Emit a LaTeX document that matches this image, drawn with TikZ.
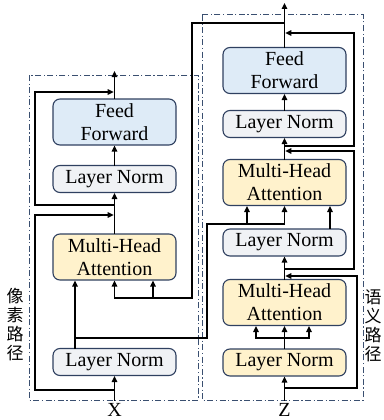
\documentclass[tikz,border=0pt]{standalone}
\usepackage{fontspec}
\setmainfont{Liberation Serif}
\newfontfamily\cjk{Noto Sans CJK SC}
\usetikzlibrary{arrows.meta}
\definecolor{ffblue}{HTML}{DEEBF7}
\definecolor{lngray}{HTML}{F0F2F5}
\definecolor{mhayel}{HTML}{FFF2CC}
\definecolor{bord}{HTML}{2F4060}
\definecolor{dashc}{HTML}{3A4F70}
\tikzset{
 blk/.style={draw=bord, line width=1.1pt, rounded corners=7pt, minimum width=123pt, inner sep=0pt, align=center, font=\rmfamily\fontsize{20}{23}\selectfont},
 ffbox/.style={blk, fill=ffblue, minimum height=46pt},
 lnbox/.style={blk, fill=lngray, minimum height=27pt},
 lnybox/.style={blk, fill=mhayel, minimum height=27pt},
 mhabox/.style={blk, fill=mhayel, minimum height=46pt},
 conn/.style={line width=1.6pt, black, line cap=rect},
 arr/.style={conn, -{Triangle[length=6pt,width=5.5pt]}},
 arr2/.style={conn, {Triangle[length=6pt,width=5.5pt]}-{Triangle[length=6pt,width=5.5pt]}},
 region/.style={draw=dashc, line width=1pt, dash pattern=on 6pt off 2.5pt on 1.2pt off 2.5pt},
 lbl/.style={font=\rmfamily\fontsize{20}{23}\selectfont, inner sep=0pt},
 vlab/.style={font=\cjk\fontsize{17}{19}\selectfont, align=center, inner sep=0pt},
}
\begin{document}
\begin{tikzpicture}[x=1pt,y=-1pt]
\useasboundingbox (0,0) rectangle (383,420);
% regions
\draw[region] (29,75) rectangle (198,400);
\draw[region] (202,15) rectangle (363,400);
% left column
\node[lnbox] (lln0) at (114.5,362) {Layer Norm};
\node[mhabox] (lmha) at (114.5,257) {Multi-Head\\Attention};
\node[lnbox] (lln1) at (114.5,179) {Layer Norm};
\node[ffbox] (lff) at (114.5,122) {Feed\\Forward};
% right column
\node[lnybox] (rln0) at (284.5,362.5) {Layer Norm};
\node[mhabox] (rmha1) at (284.5,302.5) {Multi-Head\\Attention};
\node[lnbox] (rln1) at (284.5,242.5) {Layer Norm};
\node[mhabox] (rmha2) at (284.5,182.5) {Multi-Head\\Attention};
\node[lnbox] (rln2) at (284.5,124) {Layer Norm};
\node[ffbox] (rff) at (284.5,70.5) {Feed\\Forward};
% labels
\node[lbl] (X) at (114.5,409.5) {X};
\node[lbl] (Z) at (284.5,409.5) {Z};
\node[vlab] (lpath) at (15,325) {像\\素\\路\\径};
\node[vlab] (rpath) at (373,326) {语\\义\\路\\径};
% coordinates
\coordinate (lr1s) at (114.5,390);
\coordinate (lr1a) at (35,390);
\coordinate (lr1b) at (35,215);
\coordinate (lr1e) at (113.7,215);
\coordinate (lr2s) at (114.5,205);
\coordinate (lr2a) at (35,205);
\coordinate (lr2b) at (35,92);
\coordinate (lr2e) at (113.7,92);
\coordinate (lout) at (114.5,71);
\coordinate (lq) at (75,338);
\coordinate (rkv1) at (207,338);
\coordinate (rkv2) at (207,224);
\coordinate (rkv3) at (284.5,224);
\coordinate (rk) at (247,224);
\coordinate (rtap) at (284.5,23);
\coordinate (lkv1) at (192,23);
\coordinate (lkv2) at (192,298);
\coordinate (lkv3) at (114.5,298);
\coordinate (lk) at (153,298);
\coordinate (rout) at (284.5,3);
\coordinate (rsa) at (256,338);
\coordinate (rsb) at (309,338);
\coordinate (rq) at (330,240);
\coordinate (rr1s) at (284.5,388);
\coordinate (rr1a) at (357,388);
\coordinate (rr1b) at (357,276);
\coordinate (rr1e) at (285.3,276);
\coordinate (rr2s) at (284.5,269);
\coordinate (rr2a) at (354,269);
\coordinate (rr2b) at (354,151);
\coordinate (rr2e) at (285.3,151);
\coordinate (rr3s) at (284.5,146);
\coordinate (rr3a) at (354,146);
\coordinate (rr3b) at (354,33);
\coordinate (rr3e) at (285.3,33);
% left connectors
\draw[arr] ([yshift=3pt]X.north) -- (lln0.south);
\draw[arr] (lr1s) -- (lr1a) -- (lr1b) -- (lr1e);
\draw[arr] (lln0.north -| lq) -- (lmha.south -| lq);
\draw[arr] (lmha.north) -- (lln1.south);
\draw[arr] (lr2s) -- (lr2a) -- (lr2b) -- (lr2e);
\draw[arr] (lln1.north) -- (lff.south);
\draw[arr] (lff.north) -- (lout);
% cross connectors
\draw[arr] (lq) -- (rkv1) -- (rkv2) -- (rkv3) -- (rmha2.south);
\draw[arr] (rk) -- (rmha2.south -| rk);
\draw[arr] (rtap) -- (lkv1) -- (lkv2) -- (lkv3) -- (lmha.south);
\draw[arr] (lk) -- (lmha.south -| lk);
% right connectors
\draw[arr] ([yshift=3pt]Z.north) -- (rln0.south);
\draw[arr] (rr1s) -- (rr1a) -- (rr1b) -- (rr1e);
\draw[arr] (rln0.north) -- (rmha1.south);
\draw[arr2] (rmha1.south -| rsa) -- (rsa) -- (rsb) -- (rmha1.south -| rsb);
\draw[arr] (rmha1.north) -- (rln1.south);
\draw[arr] (rr2s) -- (rr2a) -- (rr2b) -- (rr2e);
\draw[arr] (rln1.north -| rq) -- (rmha2.south -| rq);
\draw[arr] (rmha2.north) -- (rln2.south);
\draw[arr] (rr3s) -- (rr3a) -- (rr3b) -- (rr3e);
\draw[arr] (rln2.north) -- (rff.south);
\draw[arr] (rff.north) -- (rout);
\end{tikzpicture}
\end{document}
